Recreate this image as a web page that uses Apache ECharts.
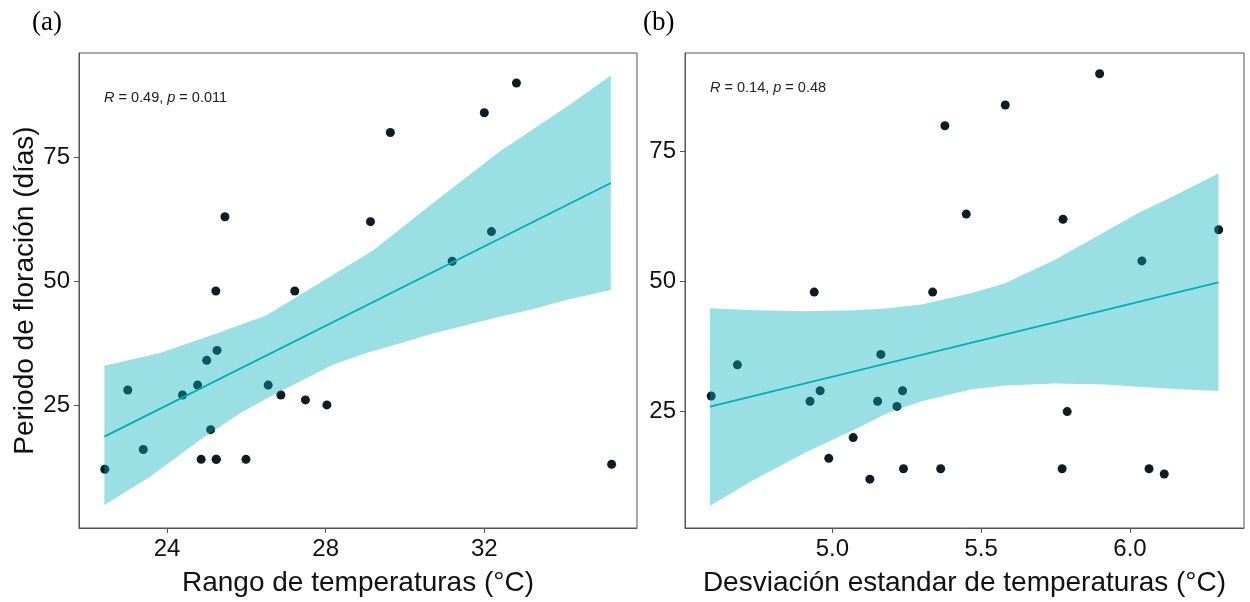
<!DOCTYPE html>
<html>
<head>
<meta charset="utf-8">
<script src="https://cdn.jsdelivr.net/npm/echarts@6/dist/echarts.min.js"></script>
<style>
html,body{margin:0;padding:0;background:#fff;}
#chart{width:1250px;height:602px;}
</style>
</head>
<body>
<div id="chart"></div>
<script>
// ---------- Panel (a): Rango de temperaturas ----------
var rangoTemp = [22.43,23.01,23.40,24.39,24.77,25.00,25.26,25.10,24.86,25.24,25.24,25.99,25.23,25.46,26.55,26.87,27.22,27.49,28.03,29.13,29.63,31.19,32.00,32.18,32.81,35.21];
var periodoA  = [12,28,16,27,29,34,36,20,14,14,14,14,48,63,29,27,48,26,25,62,80,54,84,60,90,13];
var fitLineA  = [[22.42,18.6],[35.19,69.8]];
var bandUpperA = [[22.42,32.9],[23.82,35.5],[25.25,39.4],[26.51,43.1],[27.68,48.8],[29.19,56.2],[30.70,65.7],[32.38,76.1],[34.06,85.1],[35.19,91.5]];
var bandLowerA = [[22.42,4.8],[23.57,10.5],[24.83,17.9],[25.84,23.3],[26.51,26.3],[27.35,29.7],[28.18,33.1],[29.02,35.5],[29.86,37.4],[30.70,39.4],[31.54,41.1],[32.38,42.8],[33.22,44.3],[34.06,46.2],[35.19,48.2]];
var xTicksA = [24,28,32];
var yTicks  = [25,50,75];

// ---------- Panel (b): Desviación estandar ----------
var desvTemp = [4.593,4.681,4.925,4.939,4.959,4.988,5.070,5.126,5.152,5.163,5.217,5.236,5.239,5.337,5.364,5.378,5.450,5.581,5.772,5.775,5.789,5.898,6.040,6.064,6.115,6.298];
var periodoB = [28,34,27,48,29,16,20,12,27,36,26,29,14,48,14,80,63,84,14,62,25,90,54,14,13,60];
var fitLineB = [[4.589,25.96],[6.297,49.85]];
var bandUpperB = [[4.589,44.9],[4.740,44.5],[4.908,44.3],[5.076,44.5],[5.188,44.9],[5.300,45.6],[5.468,47.8],[5.580,49.7],[5.748,54.2],[5.916,59.6],[6.028,63.2],[6.140,66.3],[6.297,70.8]];
var bandLowerB = [[4.589,6.9],[4.740,12.0],[4.908,17.1],[5.076,21.6],[5.188,24.8],[5.300,27.0],[5.468,29.3],[5.580,30.0],[5.748,30.4],[5.916,30.2],[6.028,29.8],[6.140,29.4],[6.297,28.95]];
var xTicksB = [5.0,5.5,6.0];

var annotA = ['R','0.49','p','0.011'];
var annotB = ['R','0.14','p','0.48'];
var panelLabels = ['(a)','(b)'];
var xTitleA = 'Rango de temperaturas (°C)';
var xTitleB = 'Desviación estandar de temperaturas (°C)';
var yTitle = 'Periodo de floración (días)';

function zip(xs, ys){ return xs.map(function(x,i){ return [x, ys[i]]; }); }

var FONT = '"Liberation Sans", Arial, sans-serif';
var AXC = '#555555';
var TEAL = '#00AFBB';

function bandSeries(idx, upper, lower){
  return {
    type:'custom', xAxisIndex:idx, yAxisIndex:idx, silent:true, z:3, clip:true,
    data:[upper[0]],
    renderItem:function(params, api){
      var pts = upper.map(function(d){ return api.coord(d); })
        .concat(lower.slice().reverse().map(function(d){ return api.coord(d); }));
      return {type:'polygon', shape:{points:pts}, style:{fill:'rgba(0,175,187,0.4)'}};
    }
  };
}

function xAxisCfg(idx, min, max, ticks, name, fmt){
  return {
    type:'value', gridIndex:idx, min:min, max:max,
    name:name, nameLocation:'middle', nameGap:41,
    nameTextStyle:{fontFamily:FONT, fontSize:28, color:'#111'},
    splitLine:{show:false},
    axisLine:{show:true, lineStyle:{color:AXC, width:1}},
    axisTick:{show:true, length:5, lineStyle:{color:AXC}, customValues:ticks},
    axisLabel:{fontFamily:FONT, fontSize:24, color:'#111', margin:9, customValues:ticks,
      formatter:fmt}
  };
}
function yAxisCfg(idx, min, max, name){
  return {
    type:'value', gridIndex:idx, min:min, max:max,
    name:name, nameLocation:'middle', nameGap:35,
    nameTextStyle:{fontFamily:FONT, fontSize:28, color:'#111'},
    splitLine:{show:false},
    axisLine:{show:true, lineStyle:{color:AXC, width:1}},
    axisTick:{show:true, length:5, lineStyle:{color:AXC}, customValues:yTicks},
    axisLabel:{fontFamily:FONT, fontSize:24, color:'#111', margin:9, customValues:yTicks,
      formatter:function(v){ return String(Math.round(v)); }}
  };
}

function annotText(a){
  return '{i|' + a[0] + '} = ' + a[1] + ', {i|' + a[2] + '} = ' + a[3];
}
var annotStyle = {fontFamily:FONT, fontSize:14.5, color:'#222', fontWeight:'normal',
  rich:{i:{fontFamily:FONT, fontSize:14.5, fontStyle:'italic', color:'#222'}}};
var serifStyle = {fontFamily:'"Liberation Serif", "Times New Roman", serif', fontSize:27, fontWeight:'normal', color:'#000'};

var chart = echarts.init(document.getElementById('chart'), null, {renderer:'canvas'});
chart.setOption({
  animation:false,
  backgroundColor:'#ffffff',
  title:[
    {text:panelLabels[0], left:32, top:9, padding:0, textStyle:serifStyle},
    {text:panelLabels[1], left:643, top:9, padding:0, textStyle:serifStyle},
    {text:annotText(annotA), left:104, top:90, padding:0, textStyle:annotStyle},
    {text:annotText(annotB), left:710, top:80, padding:0, textStyle:annotStyle}
  ],
  grid:[
    {left:79, top:53, width:558, height:475, show:true, borderColor:AXC, borderWidth:1, backgroundColor:'#fff'},
    {left:685, top:53, width:559, height:475, show:true, borderColor:AXC, borderWidth:1, backgroundColor:'#fff'}
  ],
  xAxis:[
    xAxisCfg(0, 21.78, 35.85, xTicksA, xTitleA, function(v){ return String(Math.round(v)); }),
    xAxisCfg(1, 4.505, 6.383, xTicksB, xTitleB, function(v){ return v.toFixed(1); })
  ],
  yAxis:[
    yAxisCfg(0, 0.14, 96.06, yTitle),
    yAxisCfg(1, 2.6, 94.0, '')
  ],
  series:[
    {type:'scatter', xAxisIndex:0, yAxisIndex:0, data:zip(rangoTemp, periodoA), symbolSize:9,
      itemStyle:{color:'#0c1d24', opacity:1}, z:2},
    bandSeries(0, bandUpperA, bandLowerA),
    {type:'line', xAxisIndex:0, yAxisIndex:0, data:fitLineA, showSymbol:false, symbol:'none',
      lineStyle:{color:TEAL, width:1.8}, z:4},
    {type:'scatter', xAxisIndex:1, yAxisIndex:1, data:zip(desvTemp, periodoB), symbolSize:9,
      itemStyle:{color:'#0c1d24', opacity:1}, z:2},
    bandSeries(1, bandUpperB, bandLowerB),
    {type:'line', xAxisIndex:1, yAxisIndex:1, data:fitLineB, showSymbol:false, symbol:'none',
      lineStyle:{color:TEAL, width:1.8}, z:4}
  ]
});
</script>
</body>
</html>
